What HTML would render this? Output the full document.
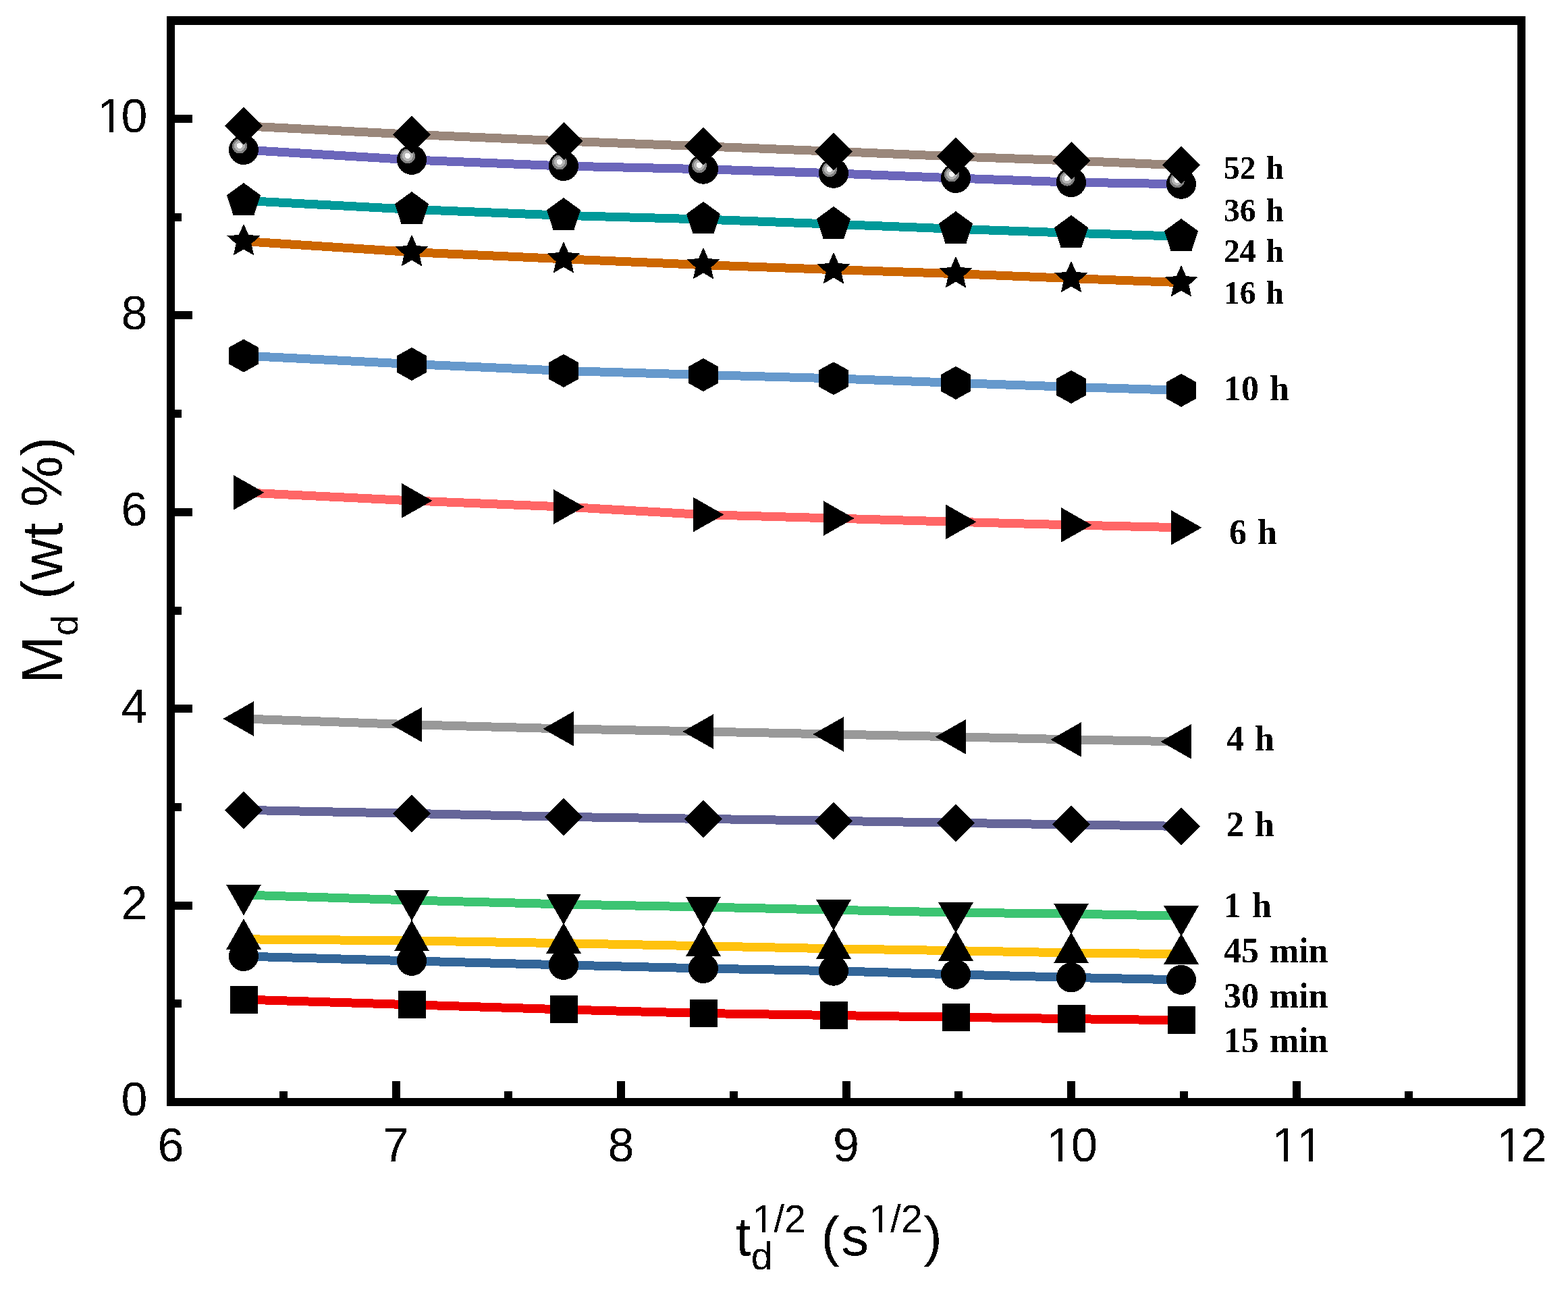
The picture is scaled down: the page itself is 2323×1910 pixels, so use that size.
<!DOCTYPE html>
<html><head><meta charset="utf-8"><title>Md vs td^1/2</title>
<style>
html,body{margin:0;padding:0;background:#fff;width:2323px;height:1910px;overflow:hidden}
svg{display:block}
.tk{font-family:"Liberation Sans",Arial,sans-serif;font-size:70px;fill:#000;font-kerning:none}
.lb{font-family:"Liberation Serif","Times New Roman",serif;font-weight:bold;fill:#000}
.ti{font-family:"Liberation Sans",Arial,sans-serif;fill:#000;font-kerning:none}
</style></head><body>
<svg width="2323" height="1910" viewBox="0 0 2323 1910">
<defs><filter id="bin" x="-5%" y="-5%" width="110%" height="110%"><feComponentTransfer><feFuncA type="discrete" tableValues="0 1"/></feComponentTransfer></filter></defs>
<rect width="2323" height="1910" fill="#fff"/>
<g fill="none" stroke-width="13" stroke-linejoin="round" stroke-linecap="butt" shape-rendering="crispEdges">
<polyline stroke="#EE0000" points="361,1481 610,1488.8 835,1495.9 1042,1501.5 1235,1504.5 1416,1507.3 1587,1509.6 1750,1511.9"/>
<polyline stroke="#336699" points="361,1417 610,1423.9 835,1429.9 1042,1435 1235,1438.7 1416,1443.9 1587,1448.4 1750,1451.9"/>
<polyline stroke="#FFC20E" points="361,1391.8 610,1393.9 835,1397.7 1042,1401.8 1235,1405.8 1416,1408.7 1587,1411.9 1750,1413.7"/>
<polyline stroke="#3CC472" points="361,1326 610,1334 835,1339.9 1042,1344 1235,1348.2 1416,1352.2 1587,1354.1 1750,1357.3"/>
<polyline stroke="#666699" points="361,1200.3 610,1205.4 835,1210.4 1042,1213.4 1235,1216.3 1416,1219.3 1587,1221.9 1750,1224.4"/>
<polyline stroke="#999999" points="361,1065 610,1073.8 835,1079.9 1042,1084 1235,1088 1416,1091.8 1587,1095.9 1750,1098.8"/>
<polyline stroke="#FF6666" points="361,729.8 610,741.9 835,751 1042,762.6 1235,768 1416,773.3 1587,777.9 1750,781.8"/>
<polyline stroke="#6699CC" points="361,527.1 610,539.5 835,549.4 1042,555.5 1235,560.8 1416,567.4 1587,573.4 1750,578.4"/>
<polyline stroke="#CC6600" points="361,357.5 610,373.6 835,383.7 1042,392.6 1235,399.6 1416,405.6 1587,412.5 1750,418.7"/>
<polyline stroke="#009999" points="361,297.3 610,310.3 835,319.3 1042,325 1235,332.2 1416,339.3 1587,345.2 1750,350.3"/>
<polyline stroke="#6B66BB" points="361,222 610,236.9 835,246 1042,250.7 1235,256.8 1416,264 1587,270.1 1750,272.8"/>
<polyline stroke="#9A877B" points="361,186.7 610,199.3 835,209 1042,216.8 1235,224.3 1416,231.9 1587,238 1750,244.9"/>
</g>
<g fill="#000" shape-rendering="crispEdges">
<rect x="340.5" y="1460.5" width="41" height="41"/><rect x="589.5" y="1468.2" width="41" height="41"/><rect x="814.5" y="1475.4" width="41" height="41"/><rect x="1021.5" y="1481" width="41" height="41"/><rect x="1214.5" y="1484" width="41" height="41"/><rect x="1395.5" y="1486.8" width="41" height="41"/><rect x="1566.5" y="1489.1" width="41" height="41"/><rect x="1729.5" y="1491.4" width="41" height="41"/>
<circle cx="361" cy="1417" r="22"/><circle cx="610" cy="1423.9" r="22"/><circle cx="835" cy="1429.9" r="22"/><circle cx="1042" cy="1435" r="22"/><circle cx="1235" cy="1438.7" r="22"/><circle cx="1416" cy="1443.9" r="22"/><circle cx="1587" cy="1448.4" r="22"/><circle cx="1750" cy="1451.9" r="22"/>
<polygon points="335,1407.1 387,1407.1 361,1361.3"/><polygon points="584,1409.2 636,1409.2 610,1363.4"/><polygon points="809,1413 861,1413 835,1367.2"/><polygon points="1016,1417.1 1068,1417.1 1042,1371.3"/><polygon points="1209,1421.1 1261,1421.1 1235,1375.3"/><polygon points="1390,1424 1442,1424 1416,1378.2"/><polygon points="1561,1427.2 1613,1427.2 1587,1381.4"/><polygon points="1724,1429 1776,1429 1750,1383.2"/>
<polygon points="335,1310.7 387,1310.7 361,1356.5"/><polygon points="584,1318.7 636,1318.7 610,1364.5"/><polygon points="809,1324.6 861,1324.6 835,1370.4"/><polygon points="1016,1328.7 1068,1328.7 1042,1374.5"/><polygon points="1209,1332.9 1261,1332.9 1235,1378.7"/><polygon points="1390,1336.9 1442,1336.9 1416,1382.7"/><polygon points="1561,1338.8 1613,1338.8 1587,1384.6"/><polygon points="1724,1342 1776,1342 1750,1387.8"/>
<polygon points="361,1172.3 389,1200.3 361,1228.3 333,1200.3"/><polygon points="610,1177.4 638,1205.4 610,1233.4 582,1205.4"/><polygon points="835,1182.4 863,1210.4 835,1238.4 807,1210.4"/><polygon points="1042,1185.4 1070,1213.4 1042,1241.4 1014,1213.4"/><polygon points="1235,1188.3 1263,1216.3 1235,1244.3 1207,1216.3"/><polygon points="1416,1191.3 1444,1219.3 1416,1247.3 1388,1219.3"/><polygon points="1587,1193.9 1615,1221.9 1587,1249.9 1559,1221.9"/><polygon points="1750,1196.4 1778,1224.4 1750,1252.4 1722,1224.4"/>
<polygon points="376.3,1039 376.3,1091 330.5,1065"/><polygon points="625.3,1047.8 625.3,1099.8 579.5,1073.8"/><polygon points="850.3,1053.9 850.3,1105.9 804.5,1079.9"/><polygon points="1057.3,1058 1057.3,1110 1011.5,1084"/><polygon points="1250.3,1062 1250.3,1114 1204.5,1088"/><polygon points="1431.3,1065.8 1431.3,1117.8 1385.5,1091.8"/><polygon points="1602.3,1069.9 1602.3,1121.9 1556.5,1095.9"/><polygon points="1765.3,1072.8 1765.3,1124.8 1719.5,1098.8"/>
<polygon points="345.7,703.8 345.7,755.8 391.5,729.8"/><polygon points="594.7,715.9 594.7,767.9 640.5,741.9"/><polygon points="819.7,725 819.7,777 865.5,751"/><polygon points="1026.7,736.6 1026.7,788.6 1072.5,762.6"/><polygon points="1219.7,742 1219.7,794 1265.5,768"/><polygon points="1400.7,747.3 1400.7,799.3 1446.5,773.3"/><polygon points="1571.7,751.9 1571.7,803.9 1617.5,777.9"/><polygon points="1734.7,755.8 1734.7,807.8 1780.5,781.8"/>
<polygon points="361,502.6 383,514.8 383,539.4 361,551.6 339,539.4 339,514.8"/><polygon points="610,515 632,527.2 632,551.8 610,564 588,551.8 588,527.2"/><polygon points="835,524.9 857,537.1 857,561.7 835,573.9 813,561.7 813,537.1"/><polygon points="1042,531 1064,543.2 1064,567.8 1042,580 1020,567.8 1020,543.2"/><polygon points="1235,536.3 1257,548.5 1257,573.1 1235,585.3 1213,573.1 1213,548.5"/><polygon points="1416,542.9 1438,555.1 1438,579.7 1416,591.9 1394,579.7 1394,555.1"/><polygon points="1587,548.9 1609,561.1 1609,585.7 1587,597.9 1565,585.7 1565,561.1"/><polygon points="1750,553.9 1772,566.1 1772,590.7 1750,602.9 1728,590.7 1728,566.1"/>
<polygon points="361,331.7 368.1,347.8 385.5,349.5 372.4,361.2 376.2,378.4 361,369.5 345.8,378.4 349.6,361.2 336.5,349.5 353.9,347.8"/><polygon points="610,347.8 617.1,363.9 634.5,365.6 621.4,377.3 625.2,394.5 610,385.6 594.8,394.5 598.6,377.3 585.5,365.6 602.9,363.9"/><polygon points="835,357.9 842.1,374 859.5,375.7 846.4,387.4 850.2,404.6 835,395.7 819.8,404.6 823.6,387.4 810.5,375.7 827.9,374"/><polygon points="1042,366.8 1049.1,382.9 1066.5,384.6 1053.4,396.3 1057.2,413.5 1042,404.6 1026.8,413.5 1030.6,396.3 1017.5,384.6 1034.9,382.9"/><polygon points="1235,373.8 1242.1,389.9 1259.5,391.6 1246.4,403.3 1250.2,420.5 1235,411.6 1219.8,420.5 1223.6,403.3 1210.5,391.6 1227.9,389.9"/><polygon points="1416,379.8 1423.1,395.9 1440.5,397.6 1427.4,409.3 1431.2,426.5 1416,417.6 1400.8,426.5 1404.6,409.3 1391.5,397.6 1408.9,395.9"/><polygon points="1587,386.7 1594.1,402.8 1611.5,404.5 1598.4,416.2 1602.2,433.4 1587,424.5 1571.8,433.4 1575.6,416.2 1562.5,404.5 1579.9,402.8"/><polygon points="1750,392.9 1757.1,409 1774.5,410.7 1761.4,422.4 1765.2,439.6 1750,430.7 1734.8,439.6 1738.6,422.4 1725.5,410.7 1742.9,409"/>
<polygon points="361,271 386,289.2 376.5,318.6 345.5,318.6 336,289.2"/><polygon points="610,284 635,302.2 625.5,331.6 594.5,331.6 585,302.2"/><polygon points="835,293 860,311.2 850.5,340.6 819.5,340.6 810,311.2"/><polygon points="1042,298.7 1067,316.9 1057.5,346.3 1026.5,346.3 1017,316.9"/><polygon points="1235,305.9 1260,324.1 1250.5,353.5 1219.5,353.5 1210,324.1"/><polygon points="1416,313 1441,331.2 1431.5,360.6 1400.5,360.6 1391,331.2"/><polygon points="1587,318.9 1612,337.1 1602.5,366.5 1571.5,366.5 1562,337.1"/><polygon points="1750,324 1775,342.2 1765.5,371.6 1734.5,371.6 1725,342.2"/>
<circle cx="361" cy="222" r="22"/><circle cx="355" cy="216.5" r="11" fill="#808080"/><circle cx="355" cy="216" r="8" fill="#B4B4B4"/><circle cx="354.8" cy="216" r="4.2" fill="#F8F8F8"/><circle cx="610" cy="236.9" r="22"/><circle cx="604" cy="231.4" r="11" fill="#808080"/><circle cx="604" cy="230.9" r="8" fill="#B4B4B4"/><circle cx="603.8" cy="230.9" r="4.2" fill="#F8F8F8"/><circle cx="835" cy="246" r="22"/><circle cx="829" cy="240.5" r="11" fill="#808080"/><circle cx="829" cy="240" r="8" fill="#B4B4B4"/><circle cx="828.8" cy="240" r="4.2" fill="#F8F8F8"/><circle cx="1042" cy="250.7" r="22"/><circle cx="1036" cy="245.2" r="11" fill="#808080"/><circle cx="1036" cy="244.7" r="8" fill="#B4B4B4"/><circle cx="1035.8" cy="244.7" r="4.2" fill="#F8F8F8"/><circle cx="1235" cy="256.8" r="22"/><circle cx="1229" cy="251.3" r="11" fill="#808080"/><circle cx="1229" cy="250.8" r="8" fill="#B4B4B4"/><circle cx="1228.8" cy="250.8" r="4.2" fill="#F8F8F8"/><circle cx="1416" cy="264" r="22"/><circle cx="1410" cy="258.5" r="11" fill="#808080"/><circle cx="1410" cy="258" r="8" fill="#B4B4B4"/><circle cx="1409.8" cy="258" r="4.2" fill="#F8F8F8"/><circle cx="1587" cy="270.1" r="22"/><circle cx="1581" cy="264.6" r="11" fill="#808080"/><circle cx="1581" cy="264.1" r="8" fill="#B4B4B4"/><circle cx="1580.8" cy="264.1" r="4.2" fill="#F8F8F8"/><circle cx="1750" cy="272.8" r="22"/><circle cx="1744" cy="267.3" r="11" fill="#808080"/><circle cx="1744" cy="266.8" r="8" fill="#B4B4B4"/><circle cx="1743.8" cy="266.8" r="4.2" fill="#F8F8F8"/>
<polygon points="361,158.7 389,186.7 361,214.7 333,186.7"/><polygon points="610,171.3 638,199.3 610,227.3 582,199.3"/><polygon points="835,181 863,209 835,237 807,209"/><polygon points="1042,188.8 1070,216.8 1042,244.8 1014,216.8"/><polygon points="1235,196.3 1263,224.3 1235,252.3 1207,224.3"/><polygon points="1416,203.9 1444,231.9 1416,259.9 1388,231.9"/><polygon points="1587,210 1615,238 1587,266 1559,238"/><polygon points="1750,216.9 1778,244.9 1750,272.9 1722,244.9"/>
</g>
<g fill="#000" shape-rendering="crispEdges">
<rect x="247" y="24" width="2013" height="13"/>
<rect x="247" y="1627" width="2013" height="12"/>
<rect x="247" y="24" width="12" height="1615"/>
<rect x="2248" y="24" width="12" height="1615"/>
<rect x="259" y="1481.3" width="10" height="12"/>
<rect x="259" y="1335.6" width="26" height="12"/>
<rect x="259" y="1189.9" width="10" height="12"/>
<rect x="259" y="1044.2" width="26" height="12"/>
<rect x="259" y="898.5" width="10" height="12"/>
<rect x="259" y="752.8" width="26" height="12"/>
<rect x="259" y="607.1" width="10" height="12"/>
<rect x="259" y="461.4" width="26" height="12"/>
<rect x="259" y="315.7" width="10" height="12"/>
<rect x="259" y="170" width="26" height="12"/>
<rect x="413.8" y="1617" width="12" height="10"/>
<rect x="580.5" y="1602" width="12" height="25"/>
<rect x="747.2" y="1617" width="12" height="10"/>
<rect x="914" y="1602" width="12" height="25"/>
<rect x="1080.8" y="1617" width="12" height="10"/>
<rect x="1247.5" y="1602" width="12" height="25"/>
<rect x="1414.2" y="1617" width="12" height="10"/>
<rect x="1581" y="1602" width="12" height="25"/>
<rect x="1747.8" y="1617" width="12" height="10"/>
<rect x="1914.5" y="1602" width="12" height="25"/>
<rect x="2081.2" y="1617" width="12" height="10"/>
</g>
<g class="tk" filter="url(#bin)">
<text x="179.6" y="1653.3">0</text>
<text x="179.6" y="1361.9">2</text>
<text x="179.6" y="1070.5">4</text>
<text x="179.6" y="779.1">6</text>
<text x="179.6" y="487.7">8</text>
<text x="144.1 179.6" y="196.3">10</text>
<text x="233.5" y="1720.5">6</text>
<text x="567" y="1720.5">7</text>
<text x="900.5" y="1720.5">8</text>
<text x="1234" y="1720.5">9</text>
<text x="1550.6 1587" y="1720.5">10</text>
<text x="1884.1 1921.3" y="1720.5">11</text>
<text x="2217.6 2253" y="1720.5">12</text>
</g>
<text class="ti" filter="url(#bin)" transform="translate(92,830) rotate(-90)" text-anchor="middle" font-size="85">M<tspan font-size="55" dy="23">d</tspan><tspan dy="-23"> (wt %)</tspan></text>
<text id="xt" class="ti" filter="url(#bin)" x="1090" y="1860" font-size="82">t<tspan font-size="57" dy="21">d</tspan><tspan font-size="57" dx="-30" dy="-55">1/2</tspan><tspan dy="34" dx="0"> (</tspan><tspan dx="2.5">s</tspan><tspan font-size="57" dy="-34">1/2</tspan><tspan dy="34" dx="2">)</tspan></text>
<g class="lb" filter="url(#bin)">
<text x="1813" y="265.2" font-size="47.5" word-spacing="3">52 h</text>
<text x="1813" y="327.6" font-size="47.5" word-spacing="3">36 h</text>
<text x="1813" y="388" font-size="47.5" word-spacing="3">24 h</text>
<text x="1813" y="449.9" font-size="47.5" word-spacing="3">16 h</text>
<text x="1813" y="593.3" font-size="52" word-spacing="3">10 h</text>
<text x="1821" y="806.2" font-size="52" word-spacing="3">6 h</text>
<text x="1817" y="1112" font-size="52" word-spacing="3">4 h</text>
<text x="1817" y="1239" font-size="52" word-spacing="3">2 h</text>
<text x="1813" y="1359.2" font-size="52" word-spacing="3">1 h</text>
<text x="1813" y="1426.1" font-size="52" word-spacing="3">45 min</text>
<text x="1813" y="1492.7" font-size="52" word-spacing="3">30 min</text>
<text x="1813" y="1559.2" font-size="52" word-spacing="3">15 min</text>
</g>
<g fill="#fff" shape-rendering="crispEdges">
<rect x="148.5" y="190.1" width="13.3" height="7.2"/><rect x="167.9" y="190.1" width="12.7" height="7.2"/>
<rect x="1554.9" y="1714.3" width="13.3" height="7.2"/><rect x="1574.4" y="1714.3" width="12.7" height="7.2"/>
<rect x="1888.4" y="1714.3" width="13.3" height="7.2"/><rect x="1907.9" y="1714.3" width="12.7" height="7.2"/>
<rect x="1925.6" y="1714.3" width="13.3" height="7.2"/><rect x="1945.1" y="1714.3" width="12.7" height="7.2"/>
<rect x="2221.9" y="1714.3" width="13.3" height="7.2"/><rect x="2241.4" y="1714.3" width="12.7" height="7.2"/>
<rect x="1117.8" y="1820.7" width="11" height="6.3"/><rect x="1133.9" y="1820.7" width="10.5" height="6.3"/>
<rect x="1290.7" y="1820.7" width="11" height="6.3"/><rect x="1306.7" y="1820.7" width="10.5" height="6.3"/>
</g>
</svg>
</body></html>
